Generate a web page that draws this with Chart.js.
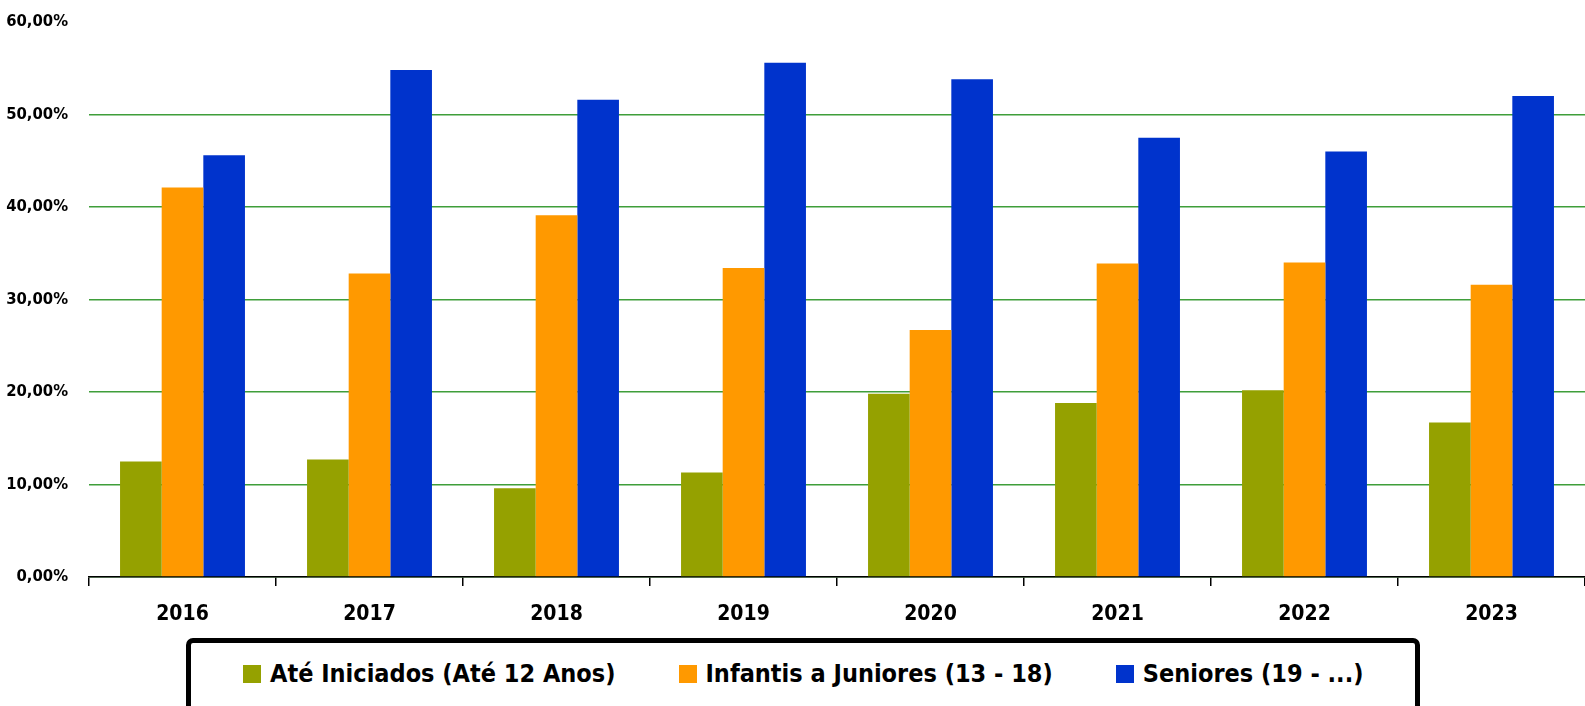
<!DOCTYPE html>
<html>
<head>
<meta charset="utf-8">
<script src="https://cdn.jsdelivr.net/npm/chart.js@4.4.1/dist/chart.umd.min.js"></script>
<style>
  html, body { margin:0; padding:0; background:#fff; width:1585px; height:706px; overflow:hidden; }
  #wrap { position:relative; width:1585px; height:706px; }
  #chartBox { position:absolute; left:0; top:0; width:1585px; height:636px; }
  #legend {
    position:absolute; left:186px; top:638px; width:1224px; height:80px;
    border:5px solid #000; border-radius:7px 7px 0 0; box-sizing:content-box;
    font-family:'DejaVu Sans Condensed','Liberation Sans Narrow',sans-serif;
    font-weight:bold; font-size:25px; color:#000;
  }
  #legend ul { list-style:none; margin:0; padding:0 0 0 52px; display:flex; gap:63px; }
  #legend li { display:flex; align-items:center; margin-top:16px; white-space:nowrap; }
  #legend .sw { width:18px; height:18px; margin-right:9px; }
</style>
</head>
<body>
<div id="wrap">
  <div id="chartBox"><canvas id="myChart"></canvas></div>
  <div id="legend"></div>
</div>
<script>
  // Data (percent)
  const years = ["2016","2017","2018","2019","2020","2021","2022","2023"];
  const ateIniciados = [12.5, 12.7, 9.6, 11.3, 19.8, 18.8, 20.2, 16.7];
  const infantisJuniores = [42.1, 32.8, 39.1, 33.4, 26.7, 33.9, 34.0, 31.6];
  const seniores = [45.6, 54.8, 51.6, 55.6, 53.8, 47.5, 46.0, 52.0];
  const seriesNames = ["Até Iniciados (Até 12 Anos)", "Infantis a Juniores (13 - 18)", "Seniores (19 - ...)"];
  const yTicks = [0, 10, 20, 30, 40, 50, 60];

  const FONT = "'DejaVu Sans Condensed','Liberation Sans Narrow',sans-serif";
  const colors = ['#95a100', '#ff9900', '#0033cc'];

  // HTML legend built from the chart datasets
  const htmlLegend = {
    id: 'htmlLegend',
    afterUpdate(chart){
      const box = document.getElementById('legend');
      box.innerHTML = '';
      const ul = document.createElement('ul');
      chart.data.datasets.forEach((ds)=>{
        const li = document.createElement('li');
        const sw = document.createElement('span');
        sw.className = 'sw';
        sw.style.background = ds.backgroundColor;
        const tx = document.createElement('span');
        tx.textContent = ds.label;
        li.appendChild(sw);
        li.appendChild(tx);
        ul.appendChild(li);
      });
      box.appendChild(ul);
    }
  };

  const ctx = document.getElementById('myChart');
  new Chart(ctx, {
    type: 'bar',
    data: {
      labels: years,
      datasets: [
        { label: seriesNames[0], data: ateIniciados, backgroundColor: colors[0] },
        { label: seriesNames[1], data: infantisJuniores, backgroundColor: colors[1] },
        { label: seriesNames[2], data: seniores, backgroundColor: colors[2] }
      ]
    },
    options: {
      responsive: true,
      maintainAspectRatio: false,
      animation: false,
      layout: { padding: { top: 22, left: 0, right: 0, bottom: 0 } },
      datasets: { bar: { categoryPercentage: 0.668, barPercentage: 1.0 } },
      plugins: {
        legend: { display: false },
        tooltip: { enabled: false }
      },
      scales: {
        x: {
          offset: true,
          grid: { offset: true, drawOnChartArea: false, drawTicks: true, tickLength: 9, color: '#000', lineWidth: 1.5 },
          border: { display: true, color: '#000', width: 1.5 },
          ticks: { color: '#000', padding: 16, font: { family: FONT, size: 21, weight: 'bold' } },
          afterFit(scale){ scale.height = 59; }
        },
        y: {
          min: 0, max: 60,
          afterBuildTicks(scale){ scale.ticks = yTicks.map(v=>({ value: v })); },
          grid: {
            drawTicks: false, lineWidth: 1.5,
            color: (c)=> c.tick && c.tick.value === 60 ? 'rgba(0,0,0,0)' : '#3f9e3a'
          },
          border: { display: false },
          ticks: {
            color: '#000', padding: 21,
            font: { family: FONT, size: 16.5, weight: 'bold' },
            callback: (v)=> v.toFixed(2).replace('.', ',') + '%'
          },
          afterFit(scale){ scale.width = 89; scale.paddingTop = 0; scale.paddingBottom = 0; }
        }
      }
    },
    plugins: [htmlLegend]
  });
</script>
</body>
</html>
